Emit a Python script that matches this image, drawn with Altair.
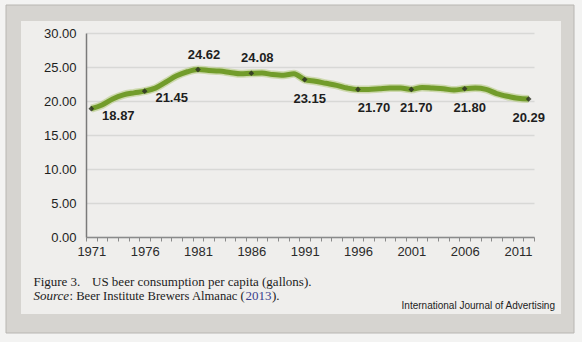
import altair as alt
import pandas as pd

# ---- data ----
years = list(range(1971, 2013))
gallons = [18.87, 19.4, 20.3, 20.9, 21.2, 21.45, 21.9, 22.8, 23.7, 24.3,
           24.62, 24.5, 24.4, 24.2, 24.0, 24.08, 24.1, 23.9, 23.8, 24.0,
           23.15, 22.9, 22.6, 22.3, 21.9, 21.70, 21.7, 21.8, 21.9, 21.9,
           21.70, 22.0, 21.9, 21.8, 21.6, 21.80, 21.9, 21.7, 21.1, 20.7,
           20.4, 20.29]
labeled_years = [1971, 1976, 1981, 1986, 1991, 1996, 2001, 2006, 2012]
y_tick_values = [0, 5, 10, 15, 20, 25, 30]
x_label_years = [1971, 1976, 1981, 1986, 1991, 1996, 2001, 2006, 2011]
caption_1a = "Figure 3."
caption_1b = "US beer consumption per capita (gallons)."
caption_2a = "Source"
caption_2b = ": Beer Institute Brewers Almanac ("
caption_2c = "2013"
caption_2d = ")."
journal = "International Journal of Advertising"

# label placement groups
right_of = [1971, 1976]
above = [1981, 1986]
below = [1991, 2001, 2006]
below_right = [1996]
below_center = [2012]

df = pd.DataFrame({"year": years, "gallons": gallons})
one = pd.DataFrame({"a": [0]})

W, H = 448, 204
x_scale = alt.Scale(domain=[1970.5, 2012.5], nice=False, zero=False)
y_scale = alt.Scale(domain=[0, 30], nice=False, zero=True)

boundaries = [1970.5 + i for i in range(len(years) + 1)]
label_test = " || ".join(f"datum.value + 0.5 == {yv}" for yv in x_label_years)
x_axis = alt.Axis(
    values=boundaries,
    labelExpr="(" + label_test + ") ? '' + (datum.value + 0.5) : ''",
    labelOffset=5.33, tickSize=4, tickColor="#8a8a8a", tickWidth=1,
    domainColor="#8a8a8a", domainWidth=1.5, grid=False,
    labelFont="Liberation Sans", labelFontSize=13, labelColor="#2a2a2a",
    labelPadding=4, title=None, labelOverlap=False, labelFlush=False,
    labelBound=False,
)
y_axis = alt.Axis(
    values=y_tick_values, format=".2f", grid=True, gridColor="#d8d8d6",
    gridWidth=1.5, domain=True, domainColor="#7a7a7a", domainWidth=1.5,
    ticks=False, labelFont="Liberation Sans", labelFontSize=13,
    labelColor="#1e1e1e", labelPadding=10, title=None,
)

X = alt.X("year:Q", scale=x_scale, axis=x_axis)
Y = alt.Y("gallons:Q", scale=y_scale, axis=y_axis)


def band(x1, x2, y1, y2, fill):
    return alt.Chart(one).mark_rect(fill=fill).encode(
        x=alt.value(x1), x2=alt.value(x2), y=alt.value(y1), y2=alt.value(y2))


FRAME = "#d6d4d0"
OUTER = "#f3f3f2"
deco = (
    band(-86, -80, -33, 309, OUTER) + band(488, 496, -33, 309, OUTER)
    + band(-86, 496, -33, -28, OUTER) + band(-86, 496, 300, 309, OUTER)
    + band(-80, -65, -28, 300, FRAME) + band(475, 488, -28, 300, FRAME)
    + band(-80, 488, -28, -12, FRAME) + band(-80, 488, 281, 300, FRAME)
    + alt.Chart(one).mark_rect(fill=None, stroke="#b8b6b2", strokeWidth=1).encode(
        x=alt.value(-80), x2=alt.value(488), y=alt.value(-28), y2=alt.value(300))
)

base = alt.Chart(df)
glow = base.mark_line(color="#b3c97c", strokeWidth=8, opacity=0.55,
                      interpolate="monotone").encode(x=X, y=Y)
line = base.mark_line(color="#729c2b", strokeWidth=5,
                      interpolate="monotone").encode(x=X, y=Y)
pts = base.transform_filter(
    alt.FieldOneOfPredicate(field="year", oneOf=labeled_years)
).mark_point(shape="diamond", filled=True, size=32, color="#2e3324",
             opacity=0.85).encode(x=X, y=Y)


def labels(group, dx, dy):
    return base.transform_filter(
        alt.FieldOneOfPredicate(field="year", oneOf=group)
    ).transform_calculate(
        label="format(datum.gallons, '.2f')"
    ).mark_text(font="Liberation Sans", fontSize=13, fontWeight="bold",
                color="#1e1e1e", dx=dx, dy=dy, baseline="middle",
                align="center").encode(x=X, y=Y, text="label:N")


lab = (labels(right_of, 27, 7) + labels(above, 6, -15) + labels(below, 5, 19)
       + labels(below_right, 16, 19) + labels(below_center, 0, 19))


def txt(s, x, y, font="Liberation Serif", size=13, style="normal",
        color="#1c1c1c", align="left", weight="normal"):
    return alt.Chart(one).mark_text(
        text=s, font=font, fontSize=size, fontStyle=style, color=color,
        align=align, baseline="middle", fontWeight=weight,
    ).encode(x=alt.value(x), y=alt.value(y))


cap = (txt(caption_1a, -52.6, 249) + txt(caption_1b, 6, 249)
       + txt(caption_2a, -52.6, 262.5, style="italic")
       + txt(caption_2b, -16.5, 262.5, size=12.6)
       + txt(caption_2c, 159.5, 262.5, color="#3a3f8c")
       + txt(caption_2d, 186, 262.5)
       + txt(journal, 469, 273, font="Liberation Sans", size=10,
             color="#222222", align="right"))

chart = alt.layer(deco, glow, line, pts, lab, cap).properties(
    width=W, height=H,
    autosize=alt.AutoSizeParams(type="none"),
    padding={"left": 86, "top": 33, "right": 48, "bottom": 105},
    background="#efeeec",
).configure_view(stroke=None)

chart.save("out.html", embed_options={"renderer": "svg", "actions": False})
